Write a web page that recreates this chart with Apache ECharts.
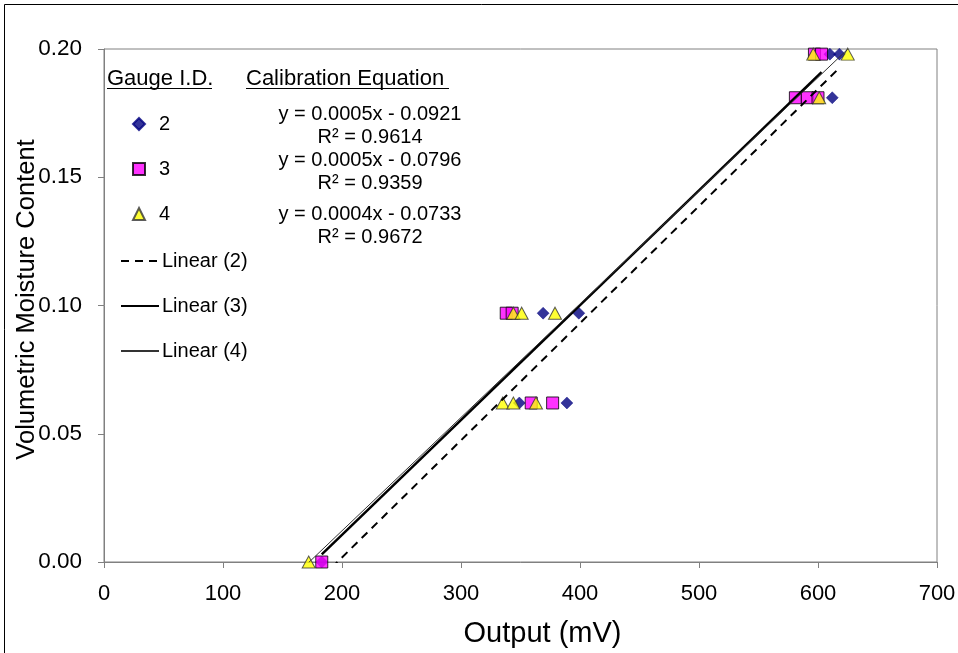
<!DOCTYPE html>
<html>
<head>
<meta charset="utf-8">
<script src="https://cdn.jsdelivr.net/npm/echarts@6/dist/echarts.min.js"></script>
<style>
  html, body { margin: 0; padding: 0; background: #ffffff; }
  #chart { width: 958px; height: 653px; }
</style>
</head>
<body>
<div id="chart"></div>
<script>
// Sensor output (mV) against volumetric moisture content for each gauge
const gauge2Output   = [183, 610, 618, 612, 369, 399, 349, 389];
const gauge2Moisture = [0.000, 0.198, 0.198, 0.181, 0.097, 0.097, 0.062, 0.062];

const gauge3Output   = [183, 597, 603, 581, 591, 600, 338, 343, 359, 377];
const gauge3Moisture = [0.000, 0.198, 0.198, 0.181, 0.181, 0.181, 0.097, 0.097, 0.062, 0.062];

const gauge4Output   = [172, 596, 625, 601, 344, 351, 379, 335, 344, 363];
const gauge4Moisture = [0.000, 0.198, 0.198, 0.181, 0.097, 0.097, 0.097, 0.062, 0.062, 0.062];

const gaugeNames   = ['2', '3', '4'];
const trendNames   = ['Linear (2)', 'Linear (3)', 'Linear (4)'];
const equationText = ['y = 0.0005x - 0.0921', 'y = 0.0005x - 0.0796', 'y = 0.0004x - 0.0733'];
const rSquaredText = ['R\u00B2 = 0.9614', 'R\u00B2 = 0.9359', 'R\u00B2 = 0.9672'];

const xTicks = { min: 0, max: 700, interval: 100 };
const yTicks = { min: 0, max: 0.2, interval: 0.05 };

const FONT = "'Liberation Sans', Arial, sans-serif";

function pairs(xs, ys) { return xs.map((x, i) => [x, ys[i]]); }

// Least-squares trendline over the range of each gauge's readings
function trend(xs, ys) {
  const n = xs.length;
  const mx = xs.reduce((a, b) => a + b, 0) / n;
  const my = ys.reduce((a, b) => a + b, 0) / n;
  let sxy = 0, sxx = 0;
  for (let i = 0; i < n; i++) { sxy += (xs[i] - mx) * (ys[i] - my); sxx += (xs[i] - mx) ** 2; }
  const slope = sxy / sxx, icpt = my - slope * mx;
  const lo = Math.min(...xs), hi = Math.max(...xs);
  return [[lo, slope * lo + icpt], [hi, slope * hi + icpt]];
}

const chart = echarts.init(document.getElementById('chart'), null, { renderer: 'canvas' });

const markerBase = { type: 'scatter', z: 2 };
const trendBase = { type: 'line', symbol: 'none', showSymbol: false, clip: true, z: 3, silent: true };

const eqCenterX = 370;
const eqRows = [114, 160, 214];
const graphics = [
  // outer chart frame
  { type: 'rect', shape: { x: 4.5, y: 4.5, width: 1000, height: 700 },
    style: { fill: 'none', stroke: '#000', lineWidth: 1 }, silent: true },
  { type: 'text', left: 107, top: 68, style: { text: 'Gauge I.D.', font: '22px ' + FONT, fill: '#000' } },
  { type: 'text', left: 246, top: 68, style: { text: 'Calibration Equation', font: '22px ' + FONT, fill: '#000' } },
  { type: 'line', shape: { x1: 107, y1: 88.5, x2: 212, y2: 88.5 }, style: { stroke: '#000', lineWidth: 1 } },
  { type: 'line', shape: { x1: 246, y1: 88.5, x2: 449, y2: 88.5 }, style: { stroke: '#000', lineWidth: 1 } }
];
eqRows.forEach((y, i) => {
  graphics.push({ type: 'text', x: eqCenterX, y: y,
    style: { text: equationText[i], font: '20px ' + FONT, fill: '#000', textAlign: 'center', textVerticalAlign: 'middle' } });
  graphics.push({ type: 'text', x: eqCenterX, y: y + 23,
    style: { text: rSquaredText[i], font: '20px ' + FONT, fill: '#000', textAlign: 'center', textVerticalAlign: 'middle' } });
});

const legendText = { fontSize: 20, color: '#000', fontFamily: FONT };

const option = {
  animation: false,
  backgroundColor: '#ffffff',
  textStyle: { fontFamily: FONT },
  grid: { left: 104, top: 49, right: 21, bottom: 91, show: true, borderColor: '#808080', borderWidth: 1,
          containLabel: false, outerBoundsMode: 'none' },
  xAxis: {
    type: 'value', min: xTicks.min, max: xTicks.max, interval: xTicks.interval,
    name: 'Output (mV)', nameLocation: 'middle', nameGap: 57, nameMoveOverlap: false,
    nameTextStyle: { fontSize: 29, color: '#000', fontFamily: FONT, padding: [0, 0, 0, 44] },
    axisLine: { show: true, onZero: false, lineStyle: { color: '#808080', width: 1 } },
    axisTick: { show: true, inside: false, length: 6, lineStyle: { color: '#808080' } },
    axisLabel: { fontSize: 22, color: '#000', margin: 21, fontFamily: FONT },
    splitLine: { show: false }
  },
  yAxis: {
    type: 'value', min: yTicks.min, max: yTicks.max, interval: yTicks.interval,
    name: 'Volumetric Moisture Content', nameLocation: 'middle', nameGap: 64, nameMoveOverlap: false,
    nameTextStyle: { fontSize: 25.5, color: '#000', fontFamily: FONT, padding: [0, 0, 0, 12] },
    axisLine: { show: true, onZero: false, lineStyle: { color: '#808080', width: 1 } },
    axisTick: { show: true, inside: false, length: 6, lineStyle: { color: '#808080' } },
    axisLabel: { fontSize: 22.5, color: '#000', margin: 22, fontFamily: FONT, formatter: v => v.toFixed(2) },
    splitLine: { show: false }
  },
  legend: [
    {
      orient: 'vertical', left: 127, top: 109,
      itemWidth: 12, itemHeight: 12, itemGap: 25,
      textStyle: Object.assign({ padding: [0, 0, 0, 9] }, legendText),
      data: gaugeNames
    },
    {
      orient: 'vertical', left: 115, top: 246,
      itemWidth: 38, itemHeight: 4, itemGap: 25,
      itemStyle: { color: 'rgba(0,0,0,0)', borderWidth: 0, opacity: 0 },
      textStyle: Object.assign({ padding: [0, 0, 0, -2] }, legendText),
      data: trendNames
    }
  ],
  graphic: graphics,
  series: [
    Object.assign({}, markerBase, { name: gaugeNames[0], symbol: 'diamond', symbolSize: 12,
      itemStyle: { color: '#000080', borderColor: '#000080', borderWidth: 0.5 },
      data: pairs(gauge2Output, gauge2Moisture) }),
    Object.assign({}, markerBase, { name: gaugeNames[1], symbol: 'rect', symbolSize: 12,
      itemStyle: { color: '#ff00ff', borderColor: '#000', borderWidth: 1 },
      data: pairs(gauge3Output, gauge3Moisture) }),
    Object.assign({}, markerBase, { name: gaugeNames[2], symbol: 'triangle', symbolSize: [13, 12],
      itemStyle: { color: '#ffff00', borderColor: '#333', borderWidth: 1 },
      data: pairs(gauge4Output, gauge4Moisture) }),
    Object.assign({}, trendBase, { name: trendNames[0],
      lineStyle: { color: '#000', width: 2, type: [8, 6] }, itemStyle: { color: '#000' },
      data: trend(gauge2Output, gauge2Moisture) }),
    Object.assign({}, trendBase, { name: trendNames[1],
      lineStyle: { color: '#000', width: 2.5, type: 'solid' }, itemStyle: { color: '#000' },
      data: trend(gauge3Output, gauge3Moisture) }),
    Object.assign({}, trendBase, { name: trendNames[2],
      lineStyle: { color: '#333', width: 1, type: 'solid' }, itemStyle: { color: '#333' },
      data: trend(gauge4Output, gauge4Moisture) })
  ]
};

chart.setOption(option);
</script>
</body>
</html>
